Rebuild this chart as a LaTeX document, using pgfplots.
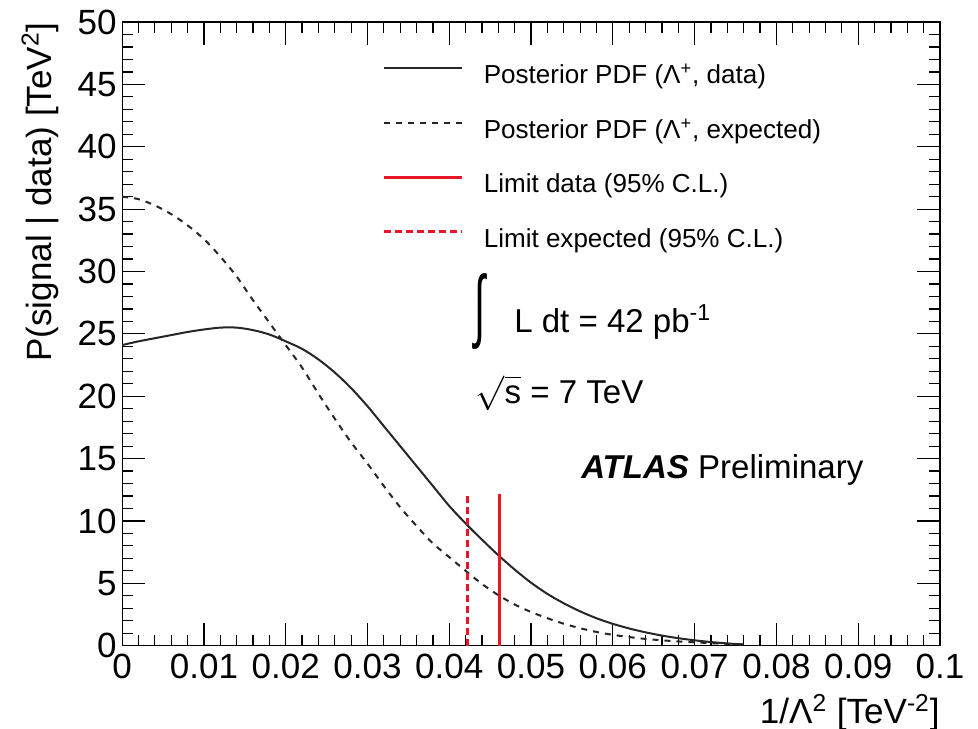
\documentclass[border=0pt]{standalone}
\usepackage{fontspec}
\setmainfont{Liberation Sans}
\usepackage{graphicx}
\usepackage{pgfplots}
\usepackage{pgfplotstable}
\pgfplotsset{compat=1.18}
\definecolor{rootred}{RGB}{232,20,40}

\pgfplotstableread{
x y
0 24.1
0.002 24.4
0.004 24.65
0.006 24.9
0.008 25.15
0.010 25.35
0.012 25.5
0.014 25.5
0.016 25.3
0.018 24.95
0.020 24.4
0.022 23.8
0.024 22.95
0.026 21.9
0.028 20.65
0.030 19.2
0.032 17.6
0.034 16.0
0.036 14.4
0.038 12.8
0.040 11.2
0.042 9.8
0.044 8.5
0.046 7.25
0.048 6.1
0.050 5.05
0.052 4.15
0.054 3.4
0.056 2.75
0.058 2.2
0.060 1.75
0.062 1.38
0.064 1.07
0.066 0.81
0.068 0.6
0.070 0.43
0.072 0.29
0.074 0.18
0.076 0.09
}\datapdf

\pgfplotstableread{
x y
0 36.0
0.002 35.8
0.004 35.3
0.006 34.6
0.008 33.7
0.010 32.6
0.012 31.2
0.014 29.6
0.016 27.7
0.018 25.9
0.020 24.1
0.022 22.3
0.024 20.2
0.026 18.2
0.028 16.3
0.030 14.6
0.032 12.8
0.034 11.1
0.036 9.6
0.038 8.2
0.040 7.1
0.042 6.0
0.044 4.95
0.046 4.05
0.048 3.3
0.050 2.7
0.052 2.2
0.054 1.76
0.056 1.4
0.058 1.1
0.060 0.87
0.062 0.69
0.064 0.54
0.066 0.43
0.068 0.34
0.070 0.27
0.072 0.2
0.074 0.14
0.076 0.09
}\exppdf

\begin{document}
\begin{tikzpicture}
\useasboundingbox (-61pt,-41.5pt) rectangle (427.5pt,322.5pt);
\begin{axis}[
  scale only axis, width=408.5pt, height=311.5pt,
  at={(0pt,0pt)}, anchor=south west,
  xmin=0, xmax=0.1, ymin=0, ymax=50,
  xtick={0,0.01,0.02,0.03,0.04,0.05,0.06,0.07,0.08,0.09,0.1},
  ytick={0,5,10,15,20,25,30,35,40,45,50},
  minor x tick num=4, minor y tick num=4,
  tick align=inside, xtick pos=both, ytick pos=both,
  major tick length=11.5pt, minor tick length=5.5pt,
  scaled x ticks=false,
  axis line style={line width=0.6pt},
  every tick/.style={black, line width=0.6pt},
  /pgf/number format/assume math mode=true,
  xticklabel style={/pgf/number format/fixed, /pgf/number format/precision=2, inner sep=0pt, yshift=-4pt},
  yticklabel style={inner sep=2.5pt},
  tick label style={font=\fontsize{17.5}{20}\selectfont},
  xlabel={1/Λ\textsuperscript{2} [TeV\textsuperscript{-2}]},
  ylabel={P(signal | data) [TeV\textsuperscript{2}]},
  every axis x label/.style={at={(rel axis cs:1,0)}, anchor=base east, yshift=-39pt, inner sep=0pt, font=\fontsize{17.5}{20}\selectfont},
  every axis y label/.style={at={(rel axis cs:-0.1004,1)}, anchor=east, rotate=90, inner sep=0pt, font=\fontsize{17.5}{20}\selectfont},
  legend style={draw=none, fill=none, at={(0.3182,0.9326)}, anchor=north west, inner sep=0pt,
    row sep=14.8pt, column sep=10pt, font=\fontsize{13}{15}\selectfont,
    nodes={inner sep=0pt, text height=9.5pt, text depth=3pt}},
  legend cell align=left,
  legend image code/.code={\draw[#1] (0pt,4.5pt) -- (39pt,4.5pt);},
]
\addplot[black!85, line width=1pt, smooth] table[x=x,y=y] {\datapdf};
\addlegendentry{Posterior PDF (Λ\textsuperscript{+}, data)}
\addplot[black!85, line width=1pt, smooth, dash pattern=on 3pt off 3pt] table[x=x,y=y] {\exppdf};
\addlegendentry{Posterior PDF (Λ\textsuperscript{+}, expected)}
\addplot[rootred, line width=1.5pt] coordinates {(0.0462,0) (0.0462,12.2)};
\addlegendentry{Limit data (95\% C.L.)}
\addplot[rootred, line width=1.5pt, dash pattern=on 3.5pt off 2pt] coordinates {(0.0422,0) (0.0422,12.2)};
\addlegendentry{Limit expected (95\% C.L.)}

\node[inner sep=0pt] at (axis cs:0.0437,26.8) {\scalebox{1}[2.0]{\fontsize{20}{20}\selectfont ∫}};
\node[anchor=base west, inner sep=0pt, font=\fontsize{16.5}{18}\selectfont] at (axis cs:0.0479,25.1) {L dt = 42 pb\textsuperscript{-1}};
\node[anchor=base west, inner sep=0pt, font=\fontsize{16.5}{18}\selectfont] at (axis cs:0.0432,19.4) {$\sqrt{\mbox{s}}$ = 7 TeV};
\node[anchor=base west, inner sep=0pt, font=\fontsize{16.5}{18}\selectfont] at (axis cs:0.0561,13.4) {\textbf{\textit{ATLAS}} Preliminary};
\end{axis}
\end{tikzpicture}
\end{document}
